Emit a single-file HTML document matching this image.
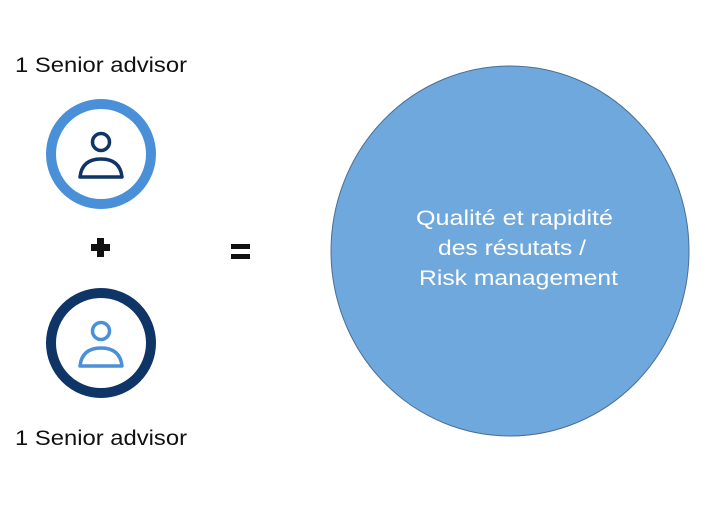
<!DOCTYPE html>
<html><head><style>
body{margin:0;width:713px;height:500px;background:#fff;overflow:hidden;font-family:"Liberation Sans",sans-serif}
</style></head><body>
<svg width="713" height="500" xmlns="http://www.w3.org/2000/svg">
<text x="15" y="72" font-size="21" fill="#111" textLength="172" lengthAdjust="spacingAndGlyphs" font-family="Liberation Sans, sans-serif">1 Senior advisor</text>
<text x="15" y="445" font-size="21" fill="#111" textLength="172" lengthAdjust="spacingAndGlyphs" font-family="Liberation Sans, sans-serif">1 Senior advisor</text>
<circle cx="101" cy="154" r="50" fill="#fff" stroke="#4a90d9" stroke-width="10"/>
<circle cx="101" cy="142" r="8.5" fill="none" stroke="#0f3466" stroke-width="3.5"/>
<path d="M80 177 Q82 159 101 159 Q120 159 122 177 Z" fill="none" stroke="#0f3466" stroke-width="3.5" stroke-linejoin="round"/>
<circle cx="101" cy="343" r="50" fill="#fff" stroke="#0f3466" stroke-width="10"/>
<circle cx="101" cy="331" r="8.5" fill="none" stroke="#4a90d9" stroke-width="3.5"/>
<path d="M80 366 Q82 348 101 348 Q120 348 122 366 Z" fill="none" stroke="#4a90d9" stroke-width="3.5" stroke-linejoin="round"/>
<rect x="91" y="244" width="19" height="7" fill="#111"/>
<rect x="97" y="238" width="7" height="19" fill="#111"/>
<rect x="231" y="244" width="19" height="5" fill="#111"/>
<rect x="231" y="254" width="19" height="5" fill="#111"/>
<ellipse cx="510" cy="251" rx="179" ry="185" fill="#6fa8dc" stroke="#4a6f94" stroke-width="1"/>
<g fill="#fff" font-size="21" font-family="Liberation Sans, sans-serif">
<text x="416" y="225" textLength="197" lengthAdjust="spacingAndGlyphs">Qualité et rapidité</text>
<text x="438" y="255" textLength="148" lengthAdjust="spacingAndGlyphs">des résutats /</text>
<text x="419" y="285" textLength="199" lengthAdjust="spacingAndGlyphs">Risk management</text>
</g>
</svg>
</body></html>
